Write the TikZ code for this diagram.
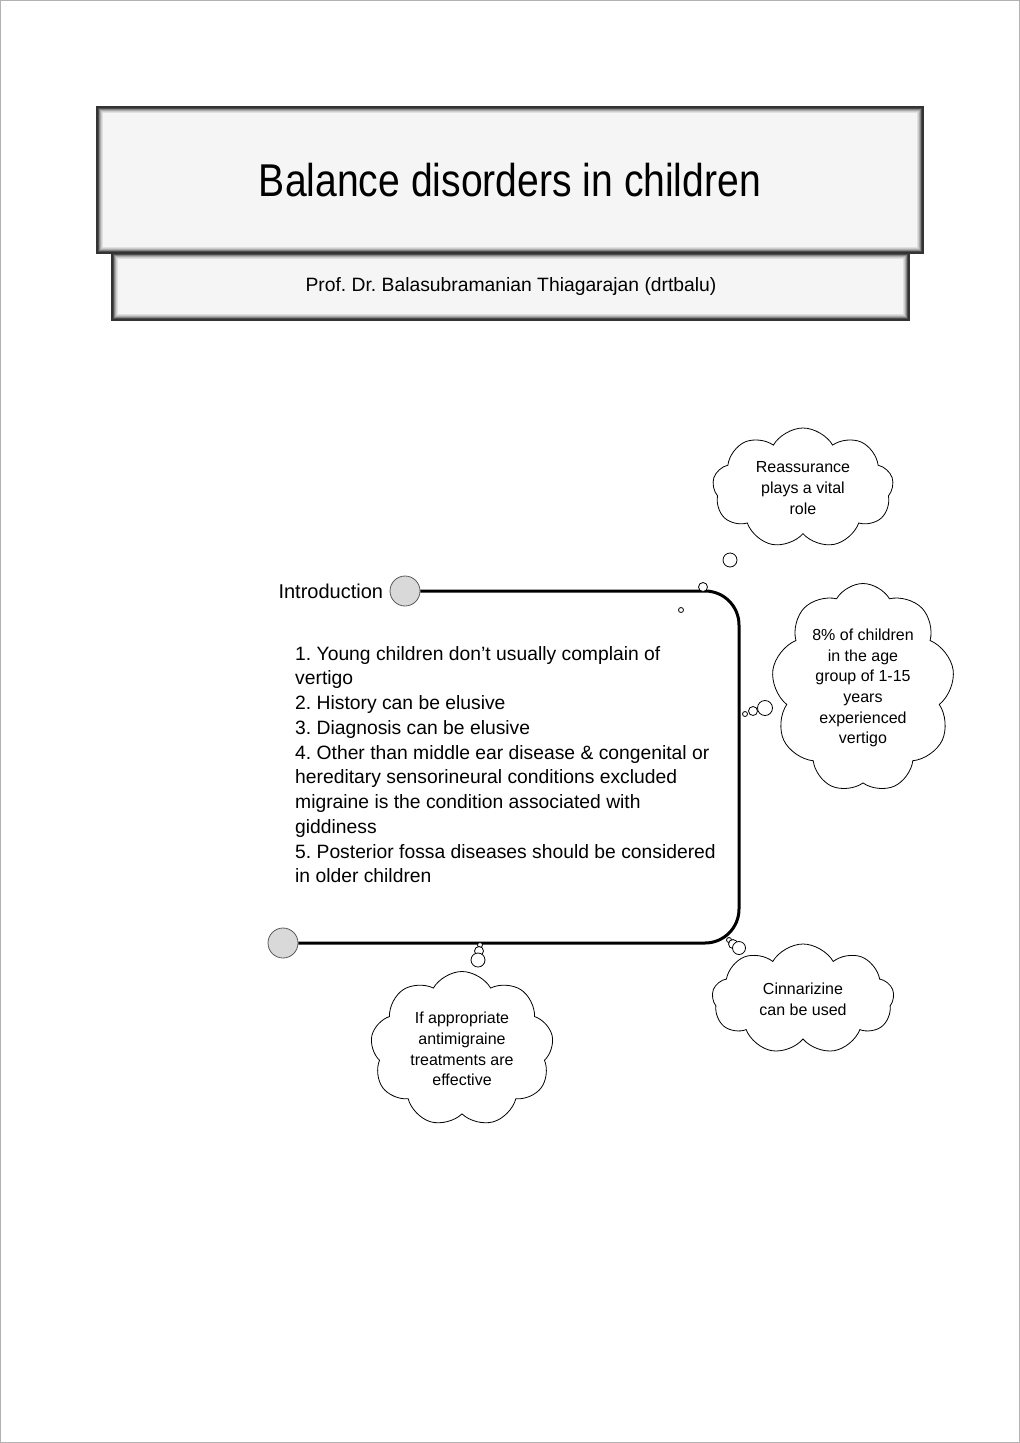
\documentclass[tikz,border=0pt]{standalone}
\usepackage{fontspec}
\setmainfont{Liberation Sans}
\newfontfamily\titlefont[FakeStretch=0.85]{Liberation Sans}
\usepackage{tikz}
\usetikzlibrary{shapes.symbols}

\tikzset{
  thought/.style={cloud,draw,cloud puffs=9,cloud puff arc=120,aspect=1.5,
    fill=white,line width=0.8,align=center,inner sep=0,
    font=\fontsize{16}{20.7}\selectfont},
  bubble/.style={circle,draw,fill=white,line width=0.8,inner sep=0},
  knob/.style={circle,draw=gray!70!black,fill=gray!30,line width=0.8,
    minimum size=30,inner sep=0}
}

\begin{document}
\frenchspacing
\begin{tikzpicture}[x=1pt,y=-1pt]

\useasboundingbox (0,0) rectangle (1020,1443);
\draw [gray!60,line width=1] (0.5,0.5) rectangle (1019.5,1442.5);

% header boxes
\begin{scope}
\fill [gray!8] (112,253) rectangle (909,320);
\foreach \i/\c in {5/12,4/20,3/32,2/48,1/70}
  \draw [black!\c,line width=1.2] (112+\i,253+\i) rectangle (909-\i,320-\i);
\draw [black!80,line width=1.2] (112,253) rectangle (909,320);
\node (author) [font=\fontsize{19.3}{22}\selectfont] at (511,287)
  {Prof. Dr. Balasubramanian Thiagarajan (drtbalu)};

\fill [gray!8] (97,107) rectangle (923,253);
\foreach \i/\c in {5/12,4/20,3/32,2/48,1/70}
  \draw [black!\c,line width=1.2] (97+\i,107+\i) rectangle (923-\i,253-\i);
\draw [black!80,line width=1.2] (97,107) rectangle (923,253);
\node (title) [font=\titlefont\fontsize{46}{50}\selectfont] at (510,180)
  {Balance disorders in children};
\end{scope}

% frame
\node (intro) [knob] at (405,591) {};
\node (endknob) [knob] at (283,943) {};
\node [anchor=east,xshift=-3,font=\fontsize{20}{24}\selectfont] at (intro.west) {Introduction};
\draw [line width=3,rounded corners=34] (intro.east) -- (739,591) -- (739,943) -- (endknob.east);

\node (points) [anchor=north west,align=left,inner sep=0,
  font=\fontsize{19.3}{24.75}\selectfont] at (295,646)
  {1. Young children don’t usually complain of\\
   vertigo\\
   2. History can be elusive\\
   3. Diagnosis can be elusive\\
   4. Other than middle ear disease \& congenital or\\
   hereditary sensorineural conditions excluded\\
   migraine is the condition associated with\\
   giddiness\\
   5. Posterior fossa diseases should be considered\\
   in older children};

% thoughts
\node (reassure) [thought,minimum width=181,minimum height=120] at (803,488)
  {Reassurance\\plays a vital\\role};
\node (r1) [bubble,minimum size=5] at (681,610) {};
\node (r2) [bubble,minimum size=9] at (703,587) {};
\node (r3) [bubble,minimum size=14] at (730,560) {};

\node (percent) [thought,minimum width=183,minimum height=209,aspect=0.9] at (863,688)
  {8\% of children\\in the age\\group of 1-15\\years\\experienced\\vertigo};
\node (p1) [bubble,minimum size=5] at (745,714) {};
\node (p2) [bubble,minimum size=9] at (753,711) {};
\node (p3) [bubble,minimum size=15] at (765,708) {};

\node (migraine) [thought,minimum width=183,minimum height=155,aspect=1.25] at (462,1049)
  {If appropriate\\antimigraine\\treatments are\\effective};
\node (m1) [bubble,minimum size=5] at (480,945) {};
\node (m2) [bubble,minimum size=9] at (479,951) {};
\node (m3) [bubble,minimum size=14] at (478,960) {};

\node (cinna) [thought,minimum width=182,minimum height=110] at (803,999)
  {Cinnarizine\\can be used};
\node (c1) [bubble,minimum size=5] at (729,940) {};
\node (c2) [bubble,minimum size=9] at (733,944) {};
\node (c3) [bubble,minimum size=13] at (739,948) {};

\end{tikzpicture}
\end{document}
